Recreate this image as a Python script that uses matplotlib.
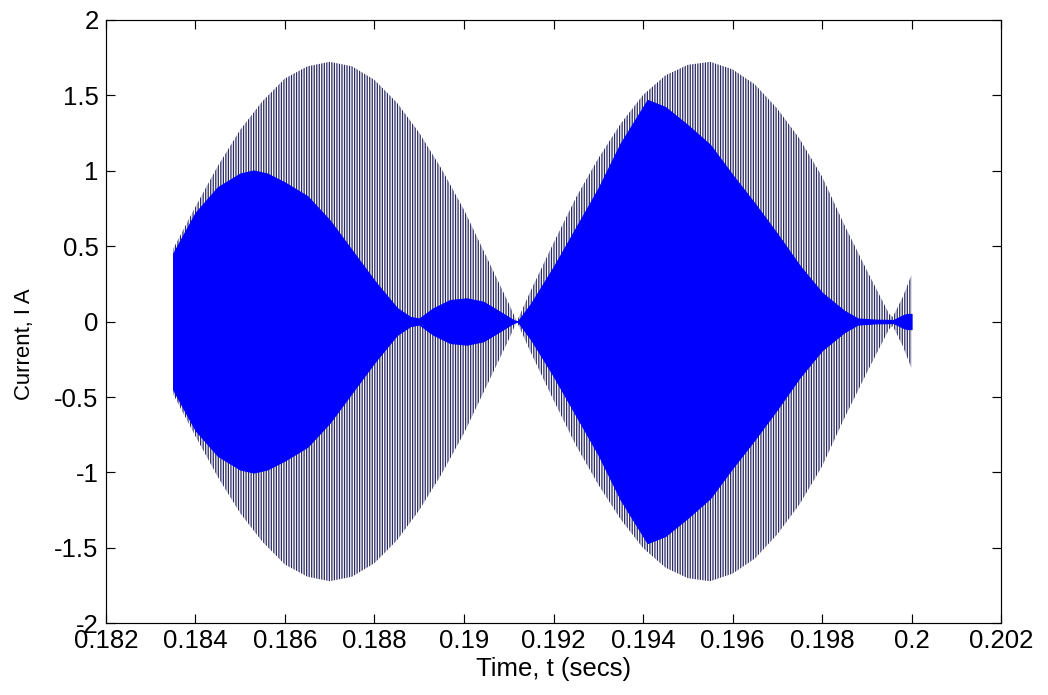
"""Beat pattern of the switched current waveform"""

import matplotlib
import matplotlib.pyplot as plt
import numpy as np

matplotlib.use("Agg")

# envelope of the full switched current (A)
outer_t = [0.1835, 0.1840, 0.1845, 0.1850, 0.1855, 0.1860, 0.1865, 0.1870,
           0.1875, 0.1880, 0.1885, 0.1890, 0.1895, 0.1900, 0.1905, 0.1910,
           0.19118, 0.1915, 0.1920, 0.1925, 0.1930, 0.1935, 0.1940, 0.1945,
           0.1950, 0.1955, 0.1960, 0.1965, 0.1970, 0.1975, 0.1980, 0.1985,
           0.1990, 0.1995, 0.19958, 0.1998, 0.2000]
outer_amp = [0.48, 0.76, 1.03, 1.27, 1.46, 1.61, 1.69, 1.72,
             1.69, 1.60, 1.45, 1.25, 1.01, 0.74, 0.43, 0.12,
             0.0, 0.21, 0.52, 0.82, 1.08, 1.31, 1.50, 1.63,
             1.70, 1.72, 1.67, 1.57, 1.41, 1.21, 0.96, 0.64,
             0.34, 0.05, 0.03, 0.16, 0.31]

# envelope of the densely filled component (A)
inner_t = [0.1835, 0.1840, 0.1845, 0.1850, 0.1853, 0.1856, 0.1860, 0.1865,
           0.1870, 0.1875, 0.1880, 0.1885, 0.1888, 0.1890, 0.18931, 0.18969,
           0.19006, 0.19043, 0.1908, 0.1911, 0.1912, 0.1915, 0.1920, 0.1925,
           0.1930, 0.1935, 0.1941, 0.1945, 0.1950, 0.1955, 0.1960, 0.1965,
           0.1970, 0.1975, 0.1980, 0.1985, 0.1988, 0.1992, 0.1996, 0.1998,
           0.1999, 0.2000]
inner_amp = [0.45, 0.72, 0.89, 0.98, 1.00, 0.98, 0.92, 0.83,
             0.67, 0.47, 0.27, 0.09, 0.03, 0.02, 0.087, 0.142,
             0.153, 0.131, 0.065, 0.01, 0.0, 0.12, 0.36, 0.62,
             0.88, 1.18, 1.467, 1.42, 1.30, 1.17, 0.97, 0.78,
             0.58, 0.37, 0.19, 0.07, 0.02, 0.012, 0.01, 0.04,
             0.05, 0.05]

xticks = [0.182, 0.184, 0.186, 0.188, 0.19, 0.192, 0.194, 0.196, 0.198, 0.2, 0.202]
xtick_labels = ["0.182", "0.184", "0.186", "0.188", "0.19", "0.192", "0.194",
                "0.196", "0.198", "0.2", "0.202"]
yticks = [-2, -1.5, -1, -0.5, 0, 0.5, 1, 1.5, 2]
ytick_labels = ["-2", "-1.5", "-1", "-0.5", "0", "0.5", "1", "1.5", "2"]

NAVY = "#282862"
BLUE = "#0000ff"
DPI = 106

plt.rcParams["font.family"] = ["Liberation Sans", "DejaVu Sans"]
plt.rcParams["hatch.color"] = NAVY
plt.rcParams["hatch.linewidth"] = 0.85

fig = plt.figure(figsize=(1048 / DPI, 695 / DPI), dpi=DPI)
ax = fig.add_axes([0.1011, 0.1029, 0.8541, 0.869])

ot = np.array(outer_t)
oa = np.array(outer_amp)
ax.fill_between(ot, -oa, oa, facecolor="none", edgecolor=NAVY,
                hatch="|||||||", linewidth=0)

it = np.array(inner_t)
ia = np.array(inner_amp)
ax.fill_between(it, -ia, ia, facecolor=BLUE, edgecolor=BLUE, linewidth=0.8)

ax.set_xlim(0.182, 0.202)
ax.set_ylim(-2, 2)
ax.set_xticks(xticks)
ax.set_xticklabels(xtick_labels)
ax.set_yticks(yticks)
ax.set_yticklabels(ytick_labels)

ax.tick_params(direction="in", top=True, right=True, length=6, width=0.8,
               labelsize=17.5, colors="black")
ax.tick_params(axis="x", pad=4)
ax.tick_params(axis="y", pad=5)
for spine in ax.spines.values():
    spine.set_linewidth(0.8)

ax.set_xlabel("Time, t (secs)", fontsize=17.5)
ax.set_ylabel("Current, I A", fontsize=15)
ax.xaxis.set_label_coords(0.5, -0.056)
ax.yaxis.set_label_coords(-0.079, 0.4627)

fig.savefig("out.png", dpi=DPI)
